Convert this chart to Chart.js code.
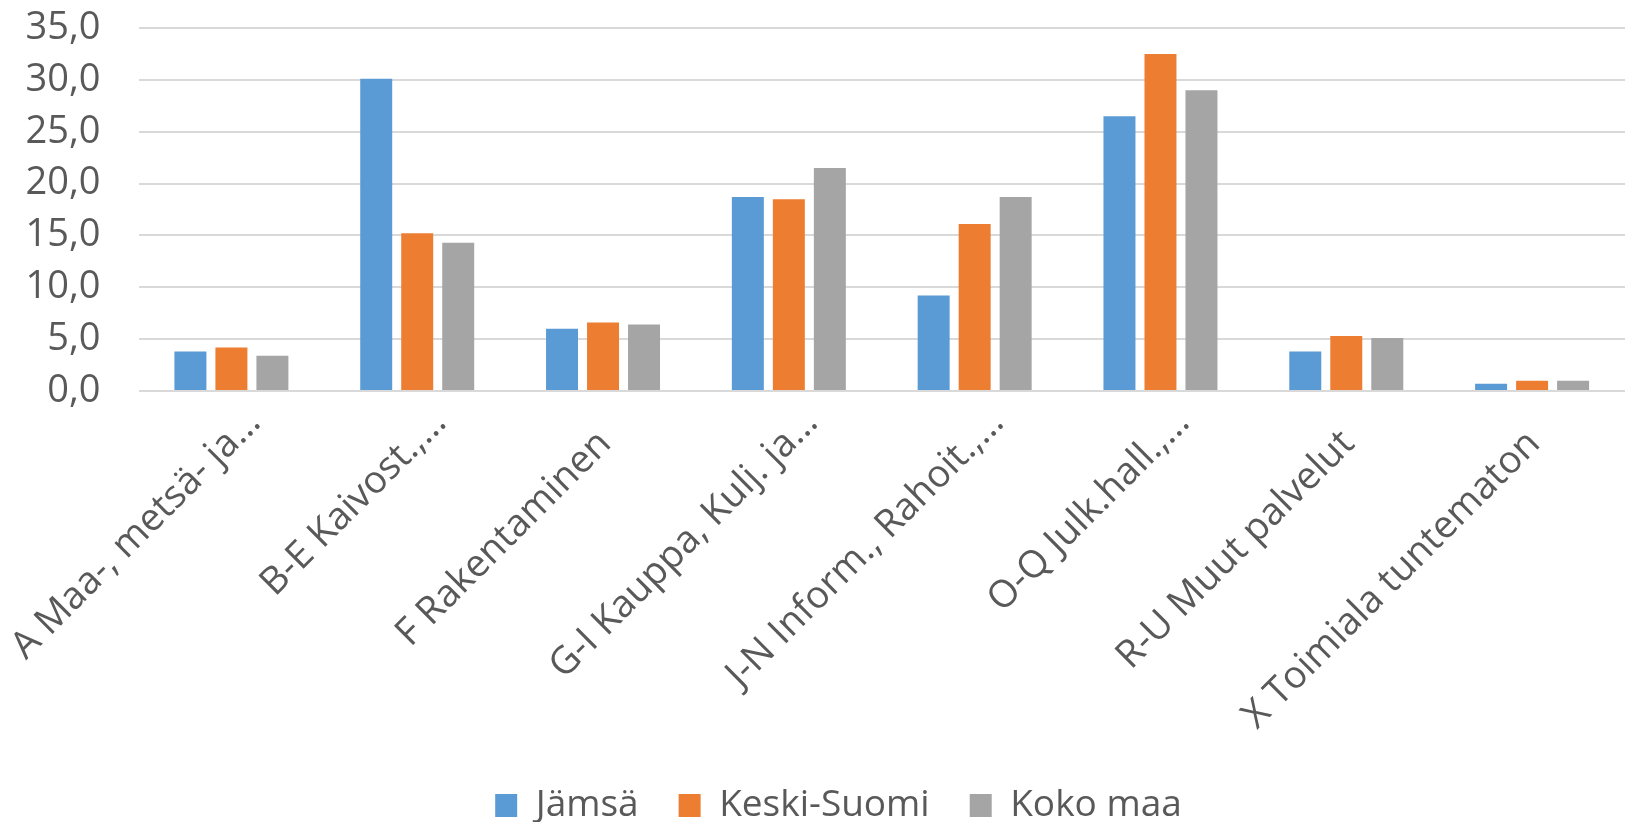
<!DOCTYPE html>
<html><head><meta charset="utf-8">
<script src="https://cdn.jsdelivr.net/npm/chart.js@4.4.1/dist/chart.umd.min.js"></script>
<style>html,body{margin:0;padding:0;background:#fff;} canvas{display:block;}</style>
</head><body>
<canvas id="c" width="1629" height="822"></canvas>
<script>
const categories = [
  'A Maa-, metsä- ja…',
  'B-E Kaivost.,…',
  'F Rakentaminen',
  'G-I Kauppa, Kulj. ja…',
  'J-N Inform., Rahoit.,…',
  'O-Q Julk.hall.,…',
  'R-U Muut palvelut',
  'X Toimiala tuntematon'
];
const seriesNames = ['Jämsä', 'Keski-Suomi', 'Koko maa'];
const jamsa      = [3.8, 30.1, 6.0, 18.7, 9.2, 26.5, 3.8, 0.7];
const keskiSuomi = [4.2, 15.2, 6.6, 18.5, 16.1, 32.5, 5.3, 1.0];
const kokoMaa    = [3.4, 14.3, 6.4, 21.5, 18.7, 29.0, 5.1, 1.0];
const yMin = 0, yMax = 35, yStep = 5;

const FONT = "'Open Sans', 'Noto Sans', sans-serif";
const TXT = '#595959';

const legendShift = {
  id: 'legendShift',
  afterLayout(chart) {
    const l = chart.legend;
    if (!l) return;
    const dy = 12, dx = 26;
    l.top += dy; l.bottom += dy; l.left += dx; l.right += dx;
  }
};

new Chart(document.getElementById('c'), {
  type: 'bar',
  data: {
    labels: categories,
    datasets: [
      { label: seriesNames[0], data: jamsa, backgroundColor: '#5B9BD5' },
      { label: seriesNames[1], data: keskiSuomi, backgroundColor: '#ED7D31' },
      { label: seriesNames[2], data: kokoMaa, backgroundColor: '#A5A5A5' }
    ]
  },
  options: {
    responsive: false,
    animation: false,
    devicePixelRatio: 1,
    categoryPercentage: 0.662,
    barPercentage: 0.78,
    layout: { padding: { top: 28, right: 4, bottom: 0, left: 0 } },
    plugins: {
      tooltip: { enabled: false },
      legend: {
        position: 'bottom',
        labels: {
          boxWidth: 22, boxHeight: 23, padding: 40,
          color: TXT,
          font: { family: FONT, size: 37 }
        }
      }
    },
    scales: {
      x: {
        grid: { display: false, drawTicks: false },
        border: { display: false },
        ticks: {
          autoSkip: false, minRotation: 45, maxRotation: 45,
          padding: 9.5, labelOffset: 23,
          color: TXT, font: { family: FONT, size: 38 },
          callback: (v, i) => {
            const t = categories[i];
            return t.endsWith('…') ? t : t + '   ';
          }
        },
        afterFit(s) { s.height = 344; s.paddingLeft = 0; s.paddingRight = 0; }
      },
      y: {
        min: yMin, max: yMax,
        grid: { color: '#D9D9D9', lineWidth: 2, drawTicks: false },
        border: { display: false },
        ticks: {
          stepSize: yStep, padding: 38,
          color: TXT, font: { family: FONT, size: 38 },
          callback: v => v.toFixed(1).replace('.', ',')
        },
        afterFit(s) { s.width = 138.5; s.paddingTop = 0; s.paddingBottom = 0; }
      }
    }
  },
  plugins: [legendShift]
});
</script>
</body></html>
